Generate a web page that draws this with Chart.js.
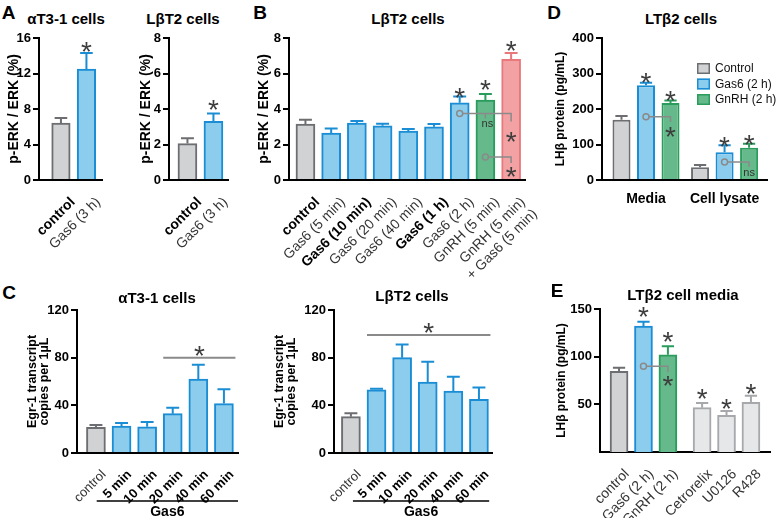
<!DOCTYPE html>
<html>
<head>
<meta charset="utf-8">
<script src="https://cdn.jsdelivr.net/npm/chart.js@4.4.1/dist/chart.umd.min.js"></script>
<style>
  html, body { margin: 0; background: #fff; }
  #stage { position: relative; width: 777px; height: 518px; overflow: hidden; font-family: 'Liberation Sans', Arial, sans-serif; }
  #stage canvas { position: absolute; }
  .txt { position: absolute; white-space: nowrap; line-height: 1; color: #000; font-weight: bold; }
</style>
</head>
<body>
<div id="stage"></div>
<script>
// ---- panel A : p-ERK / ERK ----
const aLabels = ['control', 'Gas6 (3 h)'];
const aTicksAlpha = [0, 4, 8, 12, 16];
const aAlphaVals = [6.4, 12.5];
const aAlphaErr = [0.6, 1.8];
const aTicksBeta = [0, 2, 4, 6, 8];
const aBetaVals = [2.05, 3.3];
const aBetaErr = [0.3, 0.45];

// ---- panel B : LbT2 time course ----
const bLabels = ['control', 'Gas6 (5 min)', 'Gas6 (10 min)', 'Gas6 (20 min)', 'Gas6 (40 min)',
  'Gas6 (1 h)', 'Gas6 (2 h)', 'GnRH (5 min)', ['GnRH (5 min)', '+ Gas6 (5 min)']];
const bTicks = [0, 2, 4, 6, 8];
const bVals = [3.15, 2.65, 3.2, 3.05, 2.75, 3.0, 4.35, 4.5, 6.8];
const bErr = [0.25, 0.25, 0.12, 0.12, 0.12, 0.15, 0.35, 0.35, 0.35];

// ---- panel C : Egr-1 transcripts ----
const cLabels = ['control', '5 min', '10 min', '20 min', '40 min', '60 min'];
const cTicks = [0, 40, 80, 120];
const cAlphaVals = [21.5, 22.5, 22, 33, 62, 41.5];
const cAlphaErr = [2, 2.7, 4, 5, 12, 12];
const cBetaVals = [30.5, 53, 80, 59.5, 52, 45];
const cBetaErr = [2.8, 1, 11, 17, 12, 10];

// ---- panel D : LHb protein ----
const dGroups = ['Media', 'Cell lysate'];
const dSeries = ['Control', 'Gas6 (2 h)', 'GnRH (2 h)'];
const dTicks = [0, 100, 200, 300, 400];
const dControl = [170, 36];
const dControlErr = [10, 6];
const dGas6 = [267, 78];
const dGas6Err = [7, 20];
const dGnrh = [217, 91];
const dGnrhErr = [7, 11];

// ---- panel E : LTb2 cell media ----
const eLabels = ['control', 'Gas6 (2 h)', 'GnRH (2 h)', 'Cetrorelix', 'U0126', 'R428'];
const eTicks = [50, 100, 150];
const eVals = [84.5, 132, 102, 46.5, 38.5, 52];
const eErr = [4, 4.5, 9, 5, 4.5, 7];

// significance marks: [dataset, bar, height]
const aAlphaStars = [[0, 1, 15.2]];
const aBetaStars = [[0, 1, 4.34]];
const bStars = [[0, 6, 5.03], [0, 7, 5.46], [0, 8, 7.7]];
const dStars = [[1, 0, 295], [2, 0, 242], [1, 1, 113], [2, 1, 119]];
const eStars = [[0, 1, 149], [0, 2, 123], [0, 3, 63], [0, 4, 53], [0, 5, 68.5]];

const GRAY = {fill: '#d1d2d4', line: '#6d6e71'};
const BLUE = {fill: '#8ccdee', line: '#1a8dd4'};
const GREEN = {fill: '#66b98a', line: '#2a9c5c'};
const PINK = {fill: '#f2a2a3', line: '#e8787b'};
const PALE = {fill: '#e6e7e8', line: '#a6a8ab'};
const FONT = "'Liberation Sans', Arial, sans-serif";

Chart.defaults.font.family = FONT;

const stage = document.getElementById('stage');

function text(str, cx, cy, size) {
  const d = document.createElement('div');
  d.className = 'txt';
  d.textContent = str;
  d.style.fontSize = size + 'px';
  d.style.left = cx + 'px';
  d.style.top = cy + 'px';
  d.style.transform = 'translate(-50%,-50%)';
  stage.appendChild(d);
}

// annotations per canvas
const notes = {
  a1: {stars: aAlphaStars},
  a2: {stars: aBetaStars},
  b: {
    stars: bStars,
    brackets: [
      {from: [0, 6], to: [0, 8], y: 3.75, mids: [[0, 7]], end: '*', drop: 8, gap: 21},
      {from: [0, 7], to: [0, 8], y: 1.3, end: '*', drop: 6, gap: 13}
    ]
  },
  d: {
    stars: dStars,
    legend: true,
    brackets: [
      {from: [1, 0], to: [2, 0], y: 178, end: '*', drop: 5, gap: 13},
      {from: [1, 1], to: [2, 1], y: 51, end: 'ns', drop: 5, gap: 11}
    ]
  },
  c1: {span: {from: 3, to: 5, y: 80}, group: {from: 0.03, to: 5.55, text: 'Gas6'}},
  c2: {span: {from: 1, to: 5, y: 99}, group: {from: 0.08, to: 5.4, text: 'Gas6'}},
  e: {stars: eStars, brackets: [{from: [0, 1], to: [0, 2], y: 90, end: '*', drop: 6, gap: 13}]}
};

const STAR = 28;
function drawStar(ctx, x, y) {
  ctx.font = STAR + 'px ' + FONT;
  ctx.textAlign = 'center';
  ctx.textBaseline = 'alphabetic';
  ctx.fillStyle = '#3d3d3d';
  ctx.fillText('*', x, y + 0.58 * STAR);
}
function drawNs(ctx, x, y) {
  ctx.font = '11px ' + FONT;
  ctx.textAlign = 'center';
  ctx.textBaseline = 'middle';
  ctx.fillStyle = '#333';
  ctx.fillText('ns', x, y);
}

const marks = {
  id: 'marks',
  afterDatasetsDraw(chart) {
    const n = notes[chart.canvas.id] || {};
    const {ctx, chartArea} = chart;
    const xs = chart.scales.x, ys = chart.scales.y;
    const bar = ([d, i]) => chart.getDatasetMeta(d).data[i];
    ctx.save();

    // error bars (upper only)
    chart.data.datasets.forEach((ds, d) => {
      chart.getDatasetMeta(d).data.forEach((el, i) => {
        const top = ys.getPixelForValue(ds.data[i].y + ds.err[i]);
        const half = el.width * 0.34;
        ctx.strokeStyle = Array.isArray(ds.borderColor) ? ds.borderColor[i] : ds.borderColor;
        ctx.lineWidth = 2;
        ctx.beginPath();
        ctx.moveTo(el.x, el.y);
        ctx.lineTo(el.x, top);
        ctx.moveTo(el.x - half, top);
        ctx.lineTo(el.x + half, top);
        ctx.stroke();
      });
    });

    (n.stars || []).forEach(([d, i, v]) => drawStar(ctx, bar([d, i]).x, ys.getPixelForValue(v)));

    (n.brackets || []).forEach(k => {
      const x1 = bar(k.from).x, x2 = bar(k.to).x, y = ys.getPixelForValue(k.y);
      ctx.strokeStyle = '#8a8a8a';
      ctx.lineWidth = 1.5;
      ctx.beginPath();
      ctx.arc(x1, y, 3, 0, Math.PI * 2);
      ctx.stroke();
      ctx.beginPath();
      ctx.moveTo(x1 + 3, y);
      ctx.lineTo(x2, y);
      ctx.lineTo(x2, y + k.drop);
      (k.mids || []).forEach(m => { const xm = bar(m).x; ctx.moveTo(xm, y); ctx.lineTo(xm, y + 5); });
      ctx.stroke();
      (k.mids || []).forEach(m => drawNs(ctx, bar(m).x + 2, y + 11));
      if (k.end === '*') drawStar(ctx, x2, y + k.gap);
      else drawNs(ctx, x2, y + k.gap);
    });

    if (n.span) {
      const a = bar([0, n.span.from]), z = bar([0, n.span.to]);
      const y = ys.getPixelForValue(n.span.y);
      const x1 = a.x - a.width / 2, x2 = z.x + z.width / 2 + 2;
      ctx.strokeStyle = '#8a8a8a';
      ctx.lineWidth = 2;
      ctx.beginPath();
      ctx.moveTo(x1, y);
      ctx.lineTo(x2, y);
      ctx.stroke();
      drawStar(ctx, (x1 + x2) / 2, y - 9);
    }

    if (n.group) {
      const y = chartArea.bottom + 48;
      const x1 = xs.getPixelForValue(n.group.from), x2 = xs.getPixelForValue(n.group.to);
      ctx.strokeStyle = '#000';
      ctx.lineWidth = 1.5;
      ctx.beginPath();
      ctx.moveTo(x1, y);
      ctx.lineTo(x2, y);
      ctx.stroke();
      ctx.font = 'bold 14px ' + FONT;
      ctx.textAlign = 'center';
      ctx.textBaseline = 'middle';
      ctx.fillStyle = '#000';
      ctx.fillText(n.group.text, (x1 + x2) / 2, y + 11.5);
    }

    if (n.legend) {
      const x = chartArea.right - 70, y0 = chartArea.top + 25;
      chart.data.datasets.forEach((ds, d) => {
        const y = y0 + d * 15.5;
        ctx.fillStyle = ds.backgroundColor;
        ctx.strokeStyle = ds.borderColor;
        ctx.lineWidth = 1.5;
        ctx.fillRect(x, y, 13, 11);
        ctx.strokeRect(x + 0.75, y + 0.75, 11.5, 9.5);
        ctx.font = '12px ' + FONT;
        ctx.textAlign = 'left';
        ctx.textBaseline = 'middle';
        ctx.fillStyle = '#111';
        ctx.fillText(ds.label, x + 18, y + 6);
      });
    }
    ctx.restore();
  }
};

// o.box = canvas [x, y, w, h]; o.area = plot [left, top, right, bottom]
function barChart(o) {
  const [bx, by, bw, bh] = o.box;
  const [l, t, r, b] = o.area;
  const cv = document.createElement('canvas');
  cv.id = o.id;
  cv.width = bw;
  cv.height = bh;
  cv.style.left = bx + 'px';
  cv.style.top = by + 'px';
  cv.style.width = bw + 'px';
  cv.style.height = bh + 'px';
  stage.appendChild(cv);
  const slots = o.slots || o.labels.map((_, i) => i);
  return new Chart(cv, {
    type: 'bar',
    data: {
      datasets: o.series.map(s => ({
        label: s.label,
        data: s.values.map((v, i) => ({x: slots[i], y: v})),
        err: s.err,
        backgroundColor: s.fill,
        borderColor: s.line,
        borderWidth: 2,
        borderSkipped: 'start',
        barThickness: o.thick,
        barPercentage: o.barPct || 0.9,
        categoryPercentage: o.catPct || 0.8
      }))
    },
    options: {
      responsive: false,
      animation: false,
      events: [],
      layout: {padding: {left: 0, top: t - by, right: bx + bw - r, bottom: 0}},
      plugins: {legend: {display: false}, tooltip: {enabled: false}},
      scales: {
        x: {
          type: 'linear',
          offset: false,
          min: o.xMin,
          max: o.xMax,
          afterBuildTicks: s => { s.ticks = slots.map(v => ({value: v})); },
          afterFit: s => { s.height = by + bh - b; s.paddingLeft = 0; s.paddingRight = 0; },
          grid: {display: false},
          border: {color: '#000', width: 2},
          ticks: {
            autoSkip: false,
            minRotation: o.rot,
            maxRotation: o.rot,
            padding: o.rot ? 6 : 3,
            labelOffset: o.lo || 0,
            callback: (v, i) => o.labels[i],
            color: c => o.weights[c.index] === 'bold' ? '#000' : '#333',
            font: c => ({family: FONT, size: o.xSize || 14, weight: o.weights[c.index]})
          }
        },
        y: {
          min: 0,
          max: o.yTicks[o.yTicks.length - 1],
          afterBuildTicks: s => { s.ticks = o.yTicks.map(v => ({value: v})); },
          afterFit: s => { s.width = l - bx; s.paddingTop = 0; s.paddingBottom = 0; },
          grid: {drawOnChartArea: false, tickLength: 6, color: '#000', lineWidth: 2},
          border: {color: '#000', width: 2},
          ticks: {padding: 2, color: '#000', font: {size: 13, weight: 'bold'}},
          title: {
            display: true, text: o.yTitle, padding: 0, color: '#000',
            font: {size: o.yTitleSize, weight: 'bold', lineHeight: o.yTitleLH || 1.2}
          }
        }
      }
    },
    plugins: [marks]
  });
}

// A left
barChart({
  id: 'a1', box: [6, 28, 104, 234], area: [39, 38, 102, 180],
  labels: aLabels, weights: ['bold', 'normal'], rot: 45, lo: 12, thick: 18.5,
  xMin: -0.86, xMax: 1.61, yTicks: aTicksAlpha, yTitle: 'p-ERK / ERK (%)', yTitleSize: 14,
  series: [{values: aAlphaVals, err: aAlphaErr, fill: [GRAY.fill, BLUE.fill], line: [GRAY.line, BLUE.line]}]
});
// A right
barChart({
  id: 'a2', box: [138, 28, 98, 234], area: [169, 38, 228, 180],
  labels: aLabels, weights: ['bold', 'normal'], rot: 45, lo: 12, thick: 19,
  xMin: -0.71, xMax: 1.56, yTicks: aTicksBeta, yTitle: 'p-ERK / ERK (%)', yTitleSize: 14,
  series: [{values: aBetaVals, err: aBetaErr, fill: [GRAY.fill, BLUE.fill], line: [GRAY.line, BLUE.line]}]
});
// B
const bColors = [GRAY, BLUE, BLUE, BLUE, BLUE, BLUE, BLUE, GREEN, PINK];
barChart({
  id: 'b', box: [256, 28, 284, 262], area: [289, 38, 525, 180],
  labels: bLabels, weights: ['bold', 'normal', 'bold', 'normal', 'normal', 'bold', 'normal', 'normal', 'normal'],
  rot: 45, lo: 12, thick: 19, xMin: -0.64, xMax: 8.54, yTicks: bTicks, yTitle: 'p-ERK / ERK (%)', yTitleSize: 14,
  series: [{values: bVals, err: bErr, fill: bColors.map(c => c.fill), line: bColors.map(c => c.line)}]
});
// D
barChart({
  id: 'd', box: [553, 28, 224, 190], area: [602, 38, 767, 180],
  labels: dGroups, weights: ['bold', 'bold'], rot: 0, barPct: 0.735, catPct: 0.936,
  xMin: -0.56, xMax: 1.54, yTicks: dTicks, yTitle: 'LHβ protein (pg/mL)', yTitleSize: 12,
  series: [
    {label: dSeries[0], values: dControl, err: dControlErr, fill: GRAY.fill, line: GRAY.line},
    {label: dSeries[1], values: dGas6, err: dGas6Err, fill: BLUE.fill, line: BLUE.line},
    {label: dSeries[2], values: dGnrh, err: dGnrhErr, fill: GREEN.fill, line: GREEN.line}
  ]
});
// C left
const cColors = [GRAY, BLUE, BLUE, BLUE, BLUE, BLUE];
const cWeights = ['normal', 'bold', 'bold', 'bold', 'bold', 'bold'];
const cTitle = ['Egr-1 transcript', 'copies per 1µL'];
barChart({
  id: 'c1', box: [27, 298, 219, 220], area: [77, 310, 238, 453],
  labels: cLabels, weights: cWeights, rot: 45, lo: 8, thick: 19, xSize: 13,
  xMin: -0.74, xMax: 5.55, yTicks: cTicks, yTitle: cTitle, yTitleSize: 12.5, yTitleLH: 0.92,
  series: [{values: cAlphaVals, err: cAlphaErr, fill: cColors.map(c => c.fill), line: cColors.map(c => c.line)}]
});
// C right
barChart({
  id: 'c2', box: [274, 298, 226, 220], area: [334, 310, 492, 453],
  labels: cLabels, weights: cWeights, rot: 45, lo: 8, thick: 19, xSize: 13,
  xMin: -0.66, xMax: 5.51, yTicks: cTicks, yTitle: cTitle, yTitleSize: 12.5, yTitleLH: 0.92,
  series: [{values: cBetaVals, err: cBetaErr, fill: cColors.map(c => c.fill), line: cColors.map(c => c.line)}]
});
// E (inhibitor bars set a little apart)
const eColors = [GRAY, BLUE, GREEN, PALE, PALE, PALE];
barChart({
  id: 'e', box: [554, 298, 223, 220], area: [600, 309, 770, 452],
  labels: eLabels, weights: eLabels.map(() => 'normal'), rot: 45, lo: 8, thick: 18,
  slots: eLabels.map((_, i) => i < 3 ? i : i + 0.4),
  xMin: -0.78, xMax: 6.18, yTicks: eTicks, yTitle: 'LHβ protein (pg/mL)', yTitleSize: 12,
  series: [{values: eVals, err: eErr, fill: eColors.map(c => c.fill), line: eColors.map(c => c.line)}]
});

// panel letters and titles
text('A', 8.5, 11.5, 19);
text('B', 260, 11.5, 19);
text('D', 554, 11.5, 19);
text('C', 9, 292, 19);
text('E', 557, 290, 19);
text('αT3-1 cells', 66, 18, 15);
text('LβT2 cells', 183, 18, 15);
text('LβT2 cells', 408, 18, 15);
text('LTβ2 cells', 681, 18, 15);
text('αT3-1 cells', 157, 297, 15);
text('LβT2 cells', 412, 295, 15);
text('LTβ2 cell media', 683, 294, 15);
</script>
</body>
</html>
